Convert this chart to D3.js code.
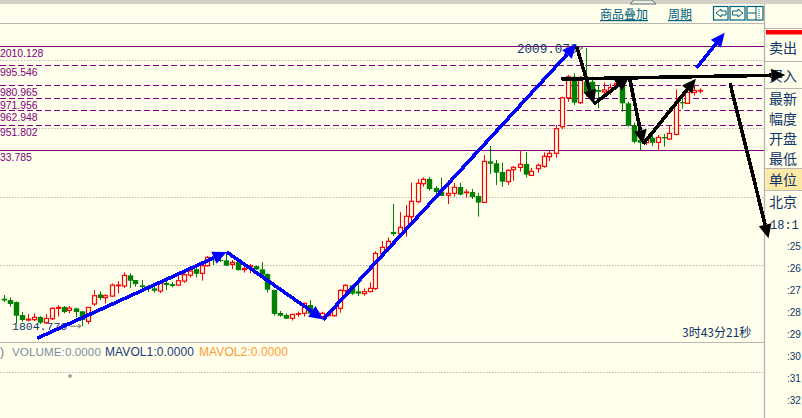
<!DOCTYPE html>
<html><head><meta charset="utf-8">
<script src="https://cdn.jsdelivr.net/npm/d3@7/dist/d3.min.js"></script>
<style>html,body{margin:0;padding:0;background:#FFFFEC;overflow:hidden}svg{display:block}</style>
</head><body><svg id="c" width="802" height="418"></svg>
<script>
const opens=[1825.0,1824.0,1822.5,1813.0,1809.3,1809.6,1811.5,1807.4,1810.3,1817.9,
1818.9,1816.4,1817.9,1815.7,1808.3,1821.1,1828.1,1825.7,1826.9,1834.5,
1834.3,1842.1,1838.7,1834.8,1834.3,1832.6,1830.6,1836.5,1835.7,1835.0,
1837.9,1842.3,1846.7,1843.6,1849.2,1853.8,1853.4,1853.1,1850.2,1851.9,
1846.3,1848.5,1848.9,1846.5,1843.1,1831.4,1814.5,1813.0,1810.6,1813.5,
1814.3,1820.4,1815.5,1811.8,1812.5,1812.5,1817.9,1830.9,1834.8,1830.4,
1828.7,1830.2,1832.4,1857.8,1862.7,1874.0,1872.7,1876.7,1885.2,1896.2,
1909.4,1912.9,1906.3,1903.6,1900.9,1902.3,1907.0,1902.8,1903.3,1900.4,
1895.7,1925.8,1924.4,1918.0,1910.9,1919.7,1921.4,1923.9,1915.5,1920.4,
1922.1,1929.2,1931.7,1951.2,1972.5,1987.9,1968.9,1984.3,1984.3,1978.2,
1976.7,1977.4,1981.8,1981.8,1968.4,1952.0,1941.4,1939.5,1943.2,1939.7,
1943.7,1942.2,1945.6,1969.3,1968.4,1976.4,1977.4];
const closes=[1823.7,1821.1,1812.5,1809.3,1810.0,1811.3,1807.4,1810.5,1817.9,1818.6,
1815.2,1818.1,1815.2,1809.3,1818.6,1827.2,1825.5,1827.2,1835.0,1835.0,
1842.1,1838.2,1835.7,1833.5,1832.8,1830.8,1836.2,1835.0,1834.3,1838.2,
1842.6,1845.3,1843.3,1849.2,1855.3,1853.4,1852.6,1849.2,1851.6,1846.0,
1847.2,1849.2,1846.5,1842.6,1831.6,1813.8,1812.5,1810.3,1813.5,1814.0,
1821.6,1814.0,1812.3,1814.3,1813.8,1817.9,1831.1,1834.8,1828.7,1828.7,
1830.2,1832.6,1858.3,1862.7,1867.1,1872.5,1877.4,1885.5,1896.5,1909.7,
1912.6,1905.5,1903.3,1900.4,1902.3,1906.8,1901.4,1903.3,1899.7,1895.5,
1925.8,1924.1,1917.5,1910.9,1919.2,1921.4,1923.6,1916.1,1918.5,1922.9,
1929.5,1931.7,1949.8,1972.5,1987.9,1968.9,1987.5,1975.7,1976.9,1976.9,
1978.2,1979.9,1983.0,1968.4,1952.0,1940.2,1939.5,1941.4,1939.5,1943.4,
1942.7,1946.3,1969.1,1968.4,1976.4,1977.9,1977.9];
const highs=[1827.7,1825.9,1823.0,1815.2,1813.7,1814.2,1812.2,1813.7,1818.6,1820.3,
1819.6,1819.6,1818.4,1815.9,1818.9,1831.3,1830.4,1828.4,1836.2,1837.9,
1844.3,1843.6,1838.7,1838.7,1835.2,1834.3,1837.7,1839.7,1837.4,1842.1,
1844.1,1848.5,1848.5,1849.9,1856.3,1855.8,1857.0,1858.2,1853.4,1852.1,
1848.9,1850.4,1849.4,1851.9,1843.6,1831.4,1816.0,1814.3,1813.8,1815.5,
1822.1,1824.0,1816.7,1815.5,1815.5,1818.4,1831.9,1835.8,1835.3,1836.3,
1832.6,1837.0,1859.8,1867.4,1870.0,1894.5,1888.6,1893.8,1910.2,1912.9,
1914.1,1914.3,1907.7,1913.8,1912.1,1910.2,1910.2,1905.3,1905.5,1902.8,
1930.5,1937.1,1926.8,1924.9,1920.0,1922.4,1934.2,1932.7,1920.9,1924.3,
1932.4,1934.1,1952.5,1973.3,1989.2,1990.4,1988.4,2009.07,1988.0,1981.8,
1983.8,1983.0,1984.3,1988.0,1969.6,1954.2,1946.3,1943.9,1945.1,1945.1,
1945.9,1952.5,1978.6,1974.5,1979.4,1981.8,1979.4];
const lows=[1822.5,1819.1,1806.9,1808.1,1808.3,1808.6,1806.4,1806.4,1809.3,1811.8,
1814.2,1814.2,1811.3,1804.77,1806.4,1819.6,1824.0,1821.5,1826.4,1828.9,
1832.8,1832.8,1833.8,1830.8,1829.9,1829.4,1829.1,1831.3,1833.3,1834.3,
1836.7,1840.6,1840.6,1838.2,1848.5,1849.7,1851.9,1848.9,1846.7,1845.5,
1844.1,1843.6,1846.0,1840.6,1829.4,1812.5,1811.8,1810.1,1808.9,1811.8,
1811.8,1812.5,1811.8,1810.6,1811.8,1811.8,1814.7,1827.7,1827.7,1827.0,
1827.2,1829.7,1831.4,1854.6,1859.5,1871.0,1870.5,1870.5,1881.5,1895.0,
1907.2,1904.3,1899.9,1900.4,1894.5,1899.9,1900.9,1899.2,1898.2,1885.2,
1895.5,1916.5,1908.5,1907.2,1908.5,1911.6,1918.3,1914.1,1915.3,1917.5,
1921.1,1926.0,1928.5,1949.5,1969.6,1967.1,1967.9,1973.3,1973.3,1964.7,
1974.5,1974.5,1979.4,1962.2,1951.2,1939.0,1934.1,1937.8,1937.0,1933.6,
1936.6,1941.5,1944.9,1964.5,1967.9,1974.0,1975.7];

const solidLevels=[2010.128,1933.785];
const dashedLevels=[1995.546,1980.965,1971.956,1962.948,1951.802];
const levelLabels=["2010.128","995.546","980.965","971.956","962.948","951.802","33.785"];
const levelLabelPrices=[2010.128,1995.546,1980.965,1971.956,1962.948,1951.802,1933.785];
const gridPrices=[2000,1950,1900,1850];
// annotation strokes as [candle index, price] pairs
const blueFrom=[[5.6,1795.9],[37.2,1859.3],[53.3,1809.8],[115.5,1994.3]];
const blueTo=[[37.2,1859.3],[53.3,1809.8],[95.5,2011.9],[120.2,2020.2]];
const blackFrom=[[95.5,2010.4],[98.4,1967.9],[104.3,1987.9],[106.6,1938.5],[93,1986.2],[121.1,1983.1]];
const blackTo=[[98.4,1967.9],[104.3,1987.9],[106.6,1938.5],[115.4,1986.5],[130.3,1989.2],[127.5,1869.3]];
const sideLabels=["卖出","买入","最新","幅度","开盘","最低","单位","北京"];
const timeLabels=["18:1",":25",":26",":27",":28",":29",":30",":31",":32"];
const volLabels=[")","VOLUME:0.0000","MAVOL1:0.0000","MAVOL2:0.0000"];
const headerLabels=["商品叠加","周期"];

const svg=d3.select("#c");
const x=d3.scaleLinear().domain([0,116]).range([3.5,699.5]);
const y=d3.scaleLinear().domain([2010.128,1933.785]).range([46.5,150.5]);
const navy="#0F3468",purple="#800080";
const cjk="'Noto Sans CJK SC','Liberation Sans',sans-serif";
const sans="'Liberation Sans',sans-serif";
const mono="'Liberation Mono',monospace";

// chrome
svg.append("rect").attr("width",802).attr("height",4).attr("fill","#D4D0C8");
svg.append("path").attr("d","M630,4 L634,0 L652,0 L656,4 Z").attr("fill","#e8f0e0").attr("stroke","#667");
svg.append("line").attr("x1",0).attr("x2",765).attr("y1",23.5).attr("y2",23.5).attr("stroke","#B8B8B0");
svg.append("line").attr("x1",764.5).attr("x2",764.5).attr("y1",4).attr("y2",418).attr("stroke","#B4B4B4").attr("stroke-width",1.3);
svg.append("line").attr("x1",0).attr("x2",765).attr("y1",342.5).attr("y2",342.5).attr("stroke","#B8B8B0");

// grid
svg.selectAll(".g").data(gridPrices).enter().append("line")
 .attr("x1",0).attr("x2",764).attr("y1",d=>Math.round(y(d))+.5).attr("y2",d=>Math.round(y(d))+.5)
 .attr("stroke","#BDBDB5").attr("stroke-dasharray","1.5,1.5");
svg.append("line").attr("x1",0).attr("x2",764).attr("y1",372.5).attr("y2",372.5).attr("stroke","#BDBDB5").attr("stroke-dasharray","1.5,1.5");

// levels
svg.selectAll(".s").data(solidLevels).enter().append("line")
 .attr("x1",0).attr("x2",764).attr("y1",d=>y(d)).attr("y2",d=>y(d)).attr("stroke",purple).attr("stroke-width",1);
svg.selectAll(".d").data(dashedLevels).enter().append("line")
 .attr("x1",0).attr("x2",764).attr("y1",d=>Math.round(y(d)-1)+.5).attr("y2",d=>Math.round(y(d)-1)+.5).attr("stroke",purple).attr("stroke-dasharray","6,3");
svg.selectAll(".ll").data(levelLabels).enter().append("text")
 .attr("x",0).attr("y",(d,i)=>y(levelLabelPrices[i])+10).text(d=>d)
 .attr("font-family",sans).attr("font-size",10.4).attr("fill",purple);

// candles
const candles=svg.append("g");
opens.forEach((o,i)=>{
 const c=closes[i],up=c>=o,col=up?"#FF0000":"#008000",cx=Math.round(x(i))+.5;
 candles.append("line").attr("x1",cx).attr("x2",cx).attr("y1",y(highs[i])).attr("y2",y(lows[i])).attr("stroke",col).attr("stroke-width",1);
 const t=y(Math.max(o,c)),b=y(Math.min(o,c));
 if(up) candles.append("rect").attr("x",cx-2).attr("width",4).attr("y",t).attr("height",Math.max(b-t,.6))
   .attr("fill","#FFFFEC").attr("stroke",col).attr("stroke-width",1.2);
 else candles.append("rect").attr("x",cx-2.7).attr("width",5.4).attr("y",t).attr("height",Math.max(b-t,1)).attr("fill",col);
});

// extreme labels
svg.append("text").attr("x",517).attr("y",y(2009.07)+5).text("2009.070").attr("font-family",mono).attr("font-size",12.6).attr("fill",navy);
svg.append("text").attr("x",12).attr("y",y(1804.77)+4).text("1804.770").attr("font-family",mono).attr("font-size",11.5).attr("fill",navy);
const hy=y(1804.77);
svg.append("path").attr("d",`M70,${hy} H81 M78,${hy-2} L81,${hy} L78,${hy+2}`).attr("fill","none").attr("stroke","#777");
const ty=y(2009.07);
svg.append("path").attr("d",`M574,${ty} H583 M580,${ty-2} L583,${ty} L580,${ty+2}`).attr("fill","none").attr("stroke","#777");

// volume pane
const volX=[0,12,105,199],volC=["#6D7F95","#7B8CA0","#1A3A78","#FF9A33"],volS=[12,11.6,12,12];
volLabels.forEach((t,i)=>svg.append("text").attr("x",volX[i]).attr("y",356).text(t).attr("font-family",sans).attr("font-size",volS[i]).attr("letter-spacing",.1).attr("fill",volC[i]));
svg.append("path").attr("d","M70,374.5 L71.5,376 L70,377.5 L68.5,376 Z").attr("fill","none").attr("stroke","#222").attr("stroke-width",.8);
svg.append("text").attr("x",682).attr("y",337).text("3时43分21秒").attr("font-family",cjk).attr("font-size",12).attr("fill",navy);

// header
const hx=[600,668];
headerLabels.forEach((t,i)=>svg.append("text").attr("x",hx[i]).attr("y",19).text(t).attr("font-family",cjk).attr("font-size",12).attr("fill","#00607F").attr("text-decoration","underline"));
[[713.5,14.5],[730,15],[747,16]].forEach(b=>svg.append("rect").attr("x",b[0]).attr("y",6.5).attr("width",b[1]).attr("height",13.5).attr("fill","none").attr("stroke","#00607F").attr("stroke-width",1.2));
svg.append("path").attr("d","M716,13 L721,9 V11 H726 V15 H721 V17 Z M743,13 L738,9 V11 H732.5 V15 H738 V17 Z M748,13 H756 M756,7 V20").attr("fill","none").attr("stroke","#00607F");
svg.append("path").attr("d","M759,9 V18").attr("fill","none").attr("stroke","#00607F").attr("stroke-dasharray","1,1");

// sidebar
svg.append("rect").attr("x",766).attr("y",30).attr("width",36).attr("height",4.5).attr("fill","#FF0000");
svg.append("line").attr("x1",765).attr("x2",802).attr("y1",28.5).attr("y2",28.5).attr("stroke","#B8B8B0");
[61.5,88.5,168.5,190.5].forEach(v=>svg.append("line").attr("x1",765).attr("x2",802).attr("y1",v).attr("y2",v).attr("stroke","#B8B8B0"));
svg.append("rect").attr("x",765.5).attr("y",169).attr("width",37).attr("height",21).attr("fill","#FFE9A6");
const sideY=[53,81,104,124,144,164,185,207];
sideLabels.forEach((t,i)=>svg.append("text").attr("x",769).attr("y",sideY[i]).text(t).attr("font-family",cjk).attr("font-size",14).attr("fill",navy));
const timeY=[229,250,272,294,316,338,360,382,404];
timeLabels.forEach((t,i)=>svg.append("text").attr("x",i?787:770).attr("y",timeY[i]).text(t).attr("font-family",i?sans:mono).attr("font-size",i?10:12).attr("fill",navy));

// arrows
function arrow(a,b,col,w){
 const x1=x(a[0]),y1=y(a[1]),x2=x(b[0]),y2=y(b[1]);
 const ang=Math.atan2(y2-y1,x2-x1),L=14,W=6.5;
 const bx=x2-L*Math.cos(ang),by=y2-L*Math.sin(ang);
 svg.append("line").attr("x1",x1).attr("y1",y1).attr("x2",bx).attr("y2",by).attr("stroke",col).attr("stroke-width",w).attr("shape-rendering","crispEdges");
 const nx=-Math.sin(ang)*W,ny=Math.cos(ang)*W;
 svg.append("path").attr("d",`M${x2},${y2} L${bx+nx},${by+ny} L${bx-nx},${by-ny} Z`).attr("fill",col);
}
blueFrom.forEach((a,i)=>arrow(a,blueTo[i],"#0000FF",3.6));
blackFrom.forEach((a,i)=>arrow(a,blackTo[i],"#000000",3.6));
</script></body></html>
